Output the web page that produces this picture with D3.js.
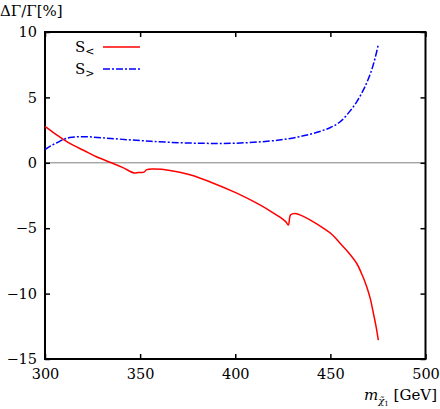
<!DOCTYPE html>
<html>
<head>
<meta charset="utf-8">
<script src="https://cdn.jsdelivr.net/npm/d3@7"></script>
<style>
  body { margin: 0; background: #fff; }
</style>
</head>
<body>
<div id="chart"></div>
<script>
// S< curve (red, solid)
const massLess = [300, 305, 310, 315, 320.5, 327, 334.5, 341, 346.8, 349, 352, 353.5, 357.3, 365.7, 376.2, 388.5, 400.8, 413, 418, 423.5, 426.5, 427.9, 429.1, 431.4, 434, 439.3, 446.3, 451, 455.1, 459.5, 463.8, 466.5, 469.1, 471, 472.6, 474, 475.2];
const valLess = [2.78, 2.25, 1.76, 1.33, 0.94, 0.46, 0.02, -0.37, -0.78, -0.75, -0.71, -0.52, -0.48, -0.58, -0.92, -1.56, -2.32, -3.22, -3.65, -4.16, -4.50, -4.75, -3.98, -3.87, -3.98, -4.36, -5.00, -5.50, -6.15, -6.85, -7.68, -8.50, -9.47, -10.40, -11.50, -12.50, -13.55];

// S> curve (blue, dash-dot)
const massGreater = [300, 303, 306.5, 310, 313, 320, 334.5, 350, 365, 383, 400, 418, 428, 435.8, 443, 449.8, 455, 460.3, 464, 467.3, 469.5, 471.7, 473.5, 475.2];
const valGreater = [1.00, 1.30, 1.55, 1.80, 1.93, 2.00, 1.86, 1.70, 1.57, 1.49, 1.50, 1.66, 1.84, 2.06, 2.33, 2.68, 3.12, 3.95, 4.70, 5.55, 6.25, 7.10, 8.00, 9.04];

const xTicks = [300, 350, 400, 450, 500];
const yTicks = [-15, -10, -5, 0, 5, 10];

const FONT = "'DejaVu Serif', serif";

const W = 440, H = 409;
const margin = {top: 32, right: 14.5, bottom: 50, left: 45};
const width = W - margin.left - margin.right,
      height = H - margin.top - margin.bottom;

const svg = d3.select("#chart").append("svg")
    .attr("width", W)
    .attr("height", H)
    .style("font-family", FONT);

const g = svg.append("g")
    .attr("transform", `translate(${margin.left}, ${margin.top})`);

const x = d3.scaleLinear().domain([300, 500]).range([0, width]);
const y = d3.scaleLinear().domain([-15, 10]).range([height, 0]);

// zero line
g.append("line")
    .attr("x1", 0).attr("x2", width)
    .attr("y1", y(0)).attr("y2", y(0))
    .attr("stroke", "#808080")
    .attr("stroke-width", 1);

const minus = d => d < 0 ? "\u2212" + Math.abs(d) : String(d);

// axes, ticks pointing inward, mirrored on top/right
const tickLen = 5;
g.append("g")
    .attr("transform", `translate(0, ${height})`)
    .call(d3.axisBottom(x).tickValues(xTicks).tickSizeInner(-tickLen).tickSizeOuter(0).tickPadding(10))
    .call(a => a.select(".domain").remove())
    .call(a => a.selectAll("text").attr("font-size", 14.5).attr("fill", "#000"));
g.append("g")
    .call(d3.axisTop(x).tickValues(xTicks).tickSizeInner(-tickLen).tickSizeOuter(0).tickFormat(""))
    .call(a => a.select(".domain").remove());
g.append("g")
    .call(d3.axisLeft(y).tickValues(yTicks).tickSizeInner(-tickLen).tickSizeOuter(0).tickPadding(8).tickFormat(minus))
    .call(a => a.select(".domain").remove())
    .call(a => a.selectAll("text").attr("font-size", 14.5).attr("fill", "#000"));
g.append("g")
    .attr("transform", `translate(${width}, 0)`)
    .call(d3.axisRight(y).tickValues(yTicks).tickSizeInner(-tickLen).tickSizeOuter(0).tickFormat(""))
    .call(a => a.select(".domain").remove());

g.selectAll(".tick line").attr("stroke", "#000").attr("stroke-width", 1.5);
svg.selectAll("g").attr("font-family", null);
svg.selectAll("text").style("font-family", FONT);

// frame
g.append("rect")
    .attr("width", width).attr("height", height)
    .attr("fill", "none")
    .attr("stroke", "#000")
    .attr("stroke-width", 2);

const line = d3.line()
    .x(d => x(d[0]))
    .y(d => y(d[1]))
    .curve(d3.curveCatmullRom.alpha(0.5));

g.append("path")
    .datum(d3.zip(massLess, valLess))
    .attr("d", line)
    .attr("fill", "none")
    .attr("stroke", "#ff0000")
    .attr("stroke-width", 1.5);

g.append("path")
    .datum(d3.zip(massGreater, valGreater))
    .attr("d", line)
    .attr("fill", "none")
    .attr("stroke", "#0000ff")
    .attr("stroke-width", 1.5)
    .attr("stroke-dasharray", "7,2,2,2");

// legend
const legend = [
    {label: "<", color: "#ff0000", dash: null, y: 47},
    {label: ">", color: "#0000ff", dash: "7,2,2,2", y: 69}
];
legend.forEach(l => {
    const t = svg.append("text")
        .attr("x", 75).attr("y", l.y + 5)
        .attr("font-size", 15)
        .style("font-family", FONT);
    t.append("tspan").text("S");
    t.append("tspan").attr("font-size", 11).attr("dy", 3).text(l.label);
    svg.append("line")
        .attr("x1", 103).attr("x2", 140)
        .attr("y1", l.y).attr("y2", l.y)
        .attr("stroke", l.color)
        .attr("stroke-width", 1.5)
        .attr("stroke-dasharray", l.dash);
});

// axis titles
svg.append("text")
    .attr("x", 0).attr("y", 16)
    .attr("font-size", 15)
    .style("font-family", FONT)
    .text("\u0394\u0393/\u0393[%]");

const xt = svg.append("text")
    .attr("x", 437).attr("y", 400)
    .attr("text-anchor", "end")
    .attr("font-size", 15)
    .style("font-family", FONT);
xt.append("tspan").attr("font-style", "italic").text("m");
xt.append("tspan").attr("font-size", 10).attr("font-style", "italic").attr("dy", 4).text("\u03C7\u0303");
xt.append("tspan").attr("font-size", 7).attr("dy", 2).text("1");
xt.append("tspan").attr("dy", -6).text(" [GeV]");
</script>
</body>
</html>
